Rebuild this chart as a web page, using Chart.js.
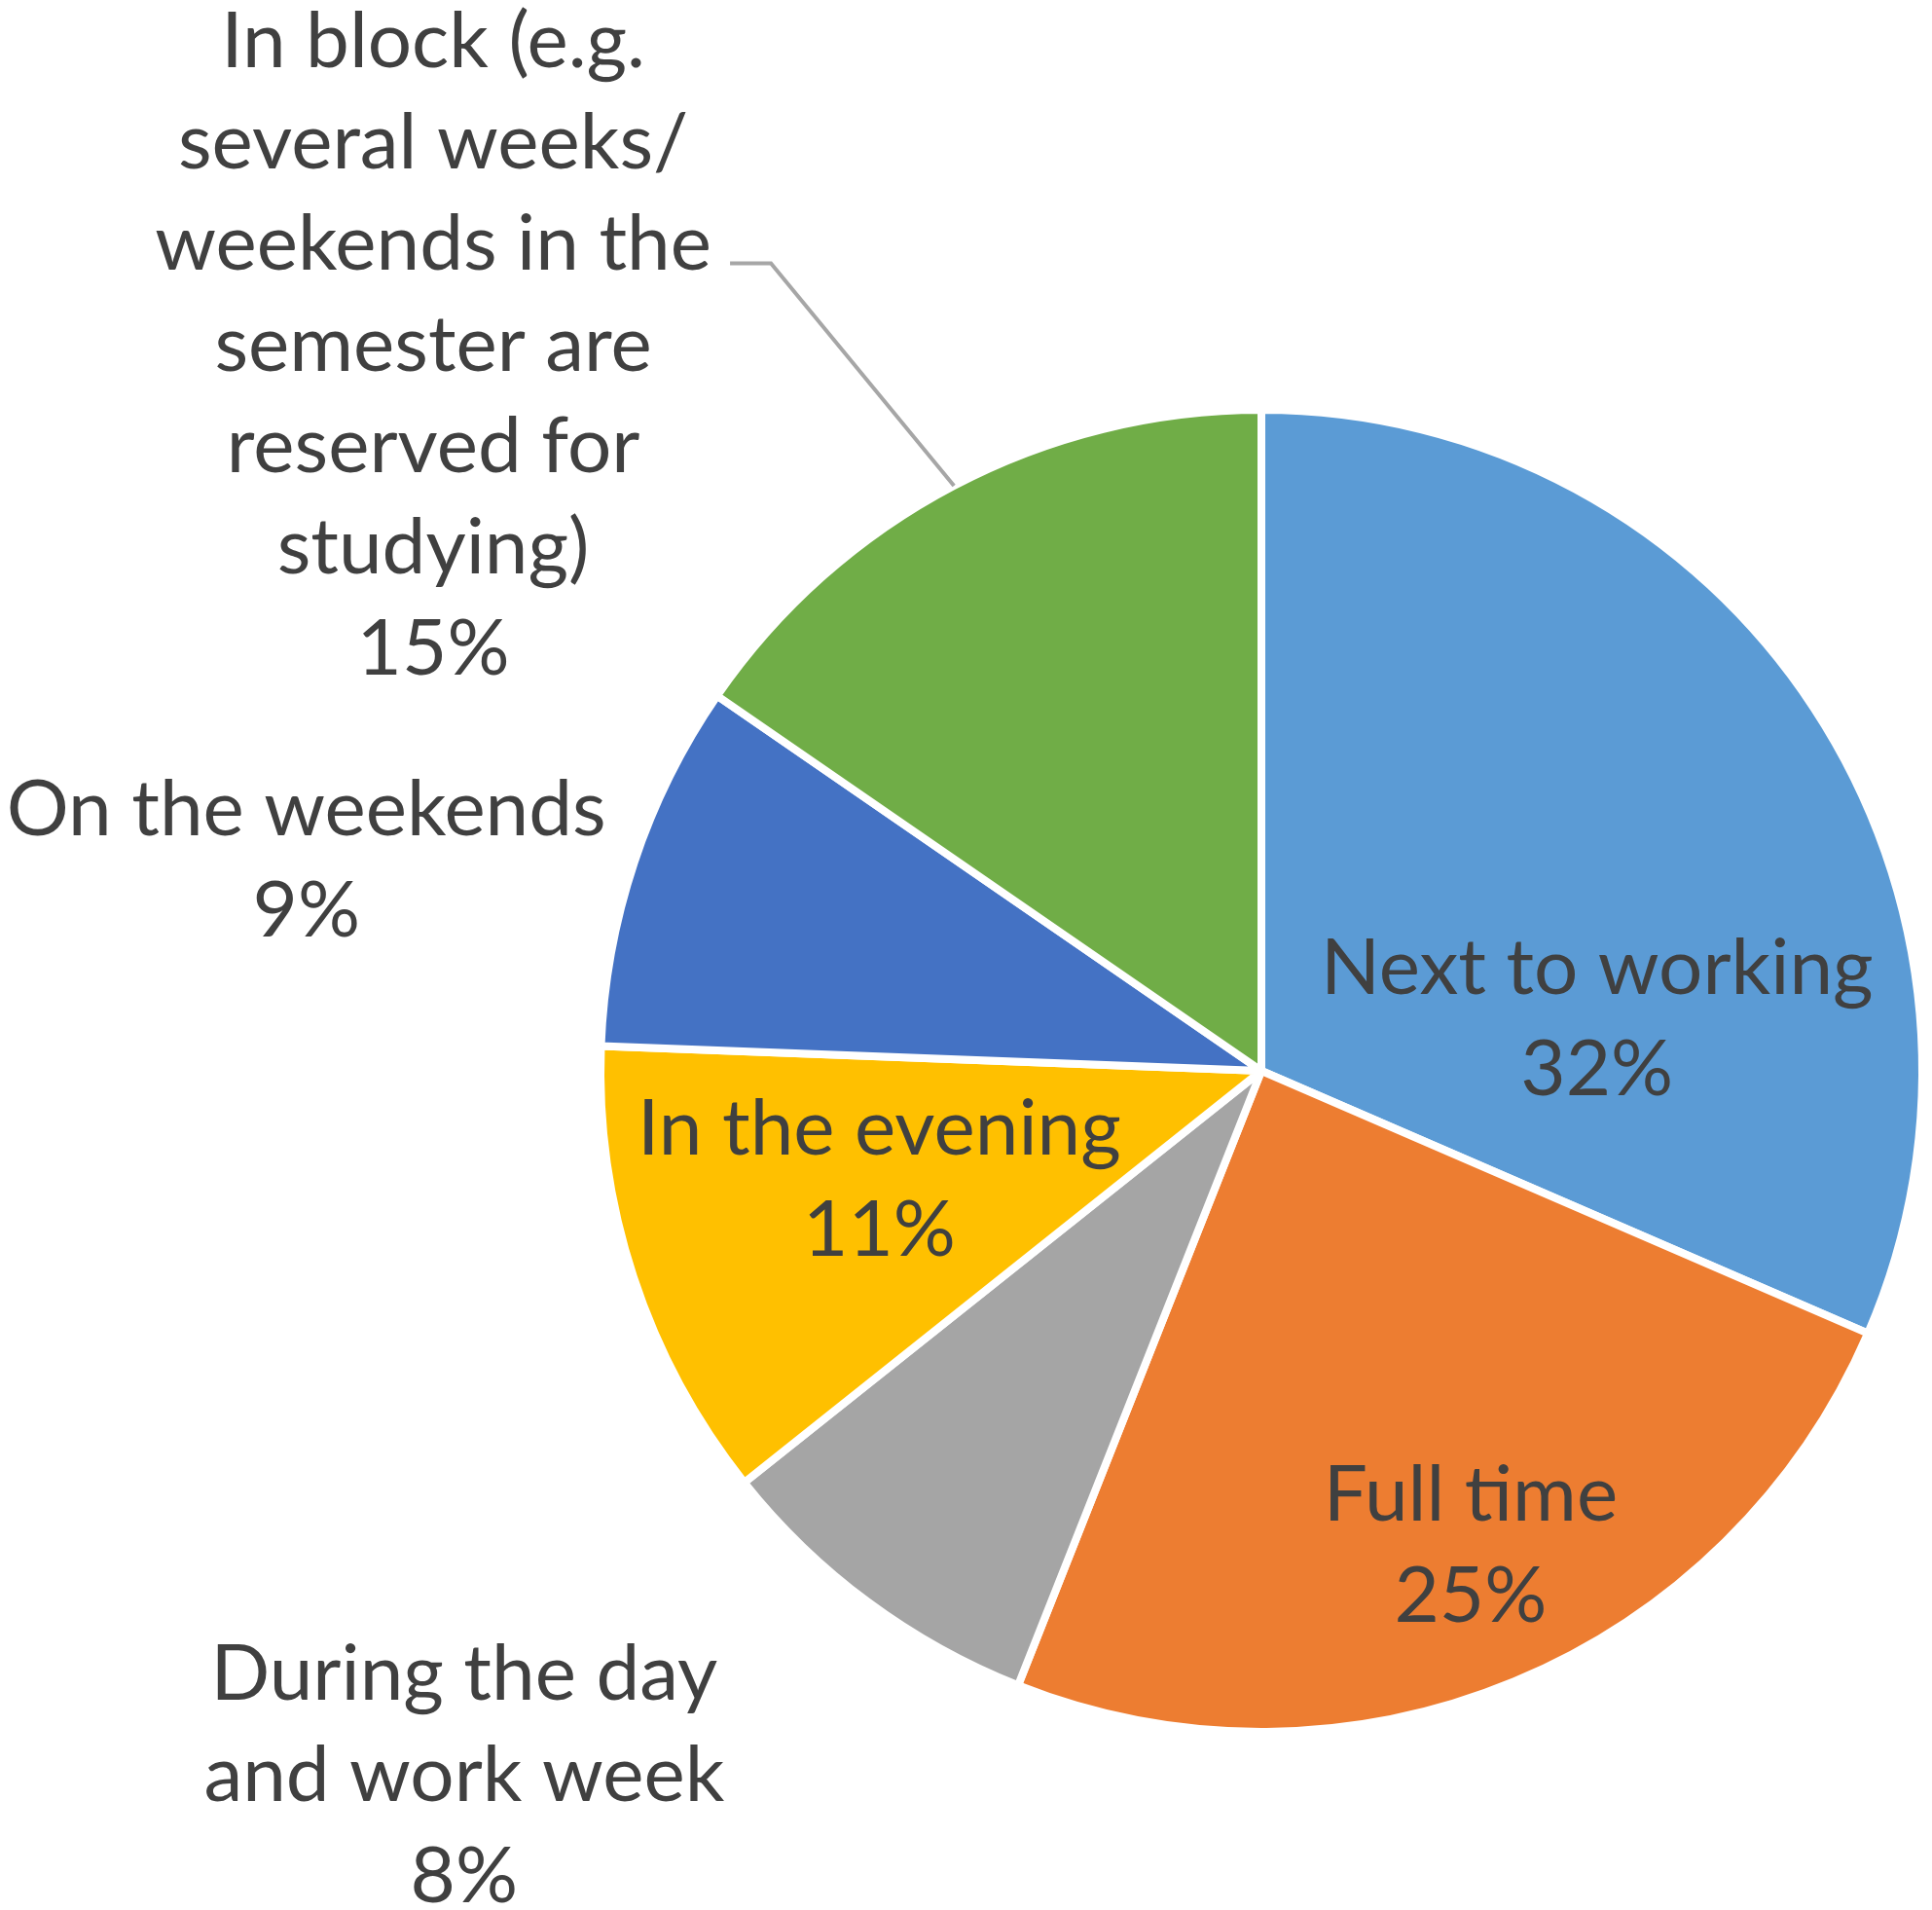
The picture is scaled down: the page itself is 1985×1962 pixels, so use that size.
<!DOCTYPE html>
<html>
<head>
<meta charset="utf-8">
<script src="https://cdn.jsdelivr.net/npm/chart.js@4/dist/chart.umd.min.js"></script>
<style>
  body { margin: 0; background: #fff; }
  #wrap { width: 1985px; height: 1962px; }
</style>
</head>
<body>
<div id="wrap"><canvas id="myPieChart"></canvas></div>
<script>
const categorias = [
  ['Next to working'],
  ['Full time'],
  ['During the day', 'and work week'],
  ['In the evening'],
  ['On the weekends'],
  ['In block (e.g.', 'several weeks/', 'weekends in the', 'semester are', 'reserved for', 'studying)']
];
const valores = [31.5, 24.5, 8.3, 11.3, 9.0, 15.4];
const colores = ['#5B9BD5', '#ED7D31', '#A5A5A5', '#FFC000', '#4472C4', '#70AD47'];

// desplazamiento de cada etiqueta respecto al centro del sector
const desplazamiento = [[61, 134], [85, 175], [-617, 451], [-70, 6], [-659, -109], [-693, -444]];
const interlineado = 104;

const pie = document.getElementById('myPieChart').getContext('2d');

const etiquetas = {
  id: 'etiquetas',
  afterDatasetsDraw(chart) {
    const ctx = chart.ctx;
    const meta = chart.getDatasetMeta(0);
    const total = valores.reduce((a, b) => a + b, 0);
    ctx.save();
    ctx.font = '80px Lato';
    ctx.fillStyle = '#404040';
    ctx.textAlign = 'center';
    ctx.textBaseline = 'middle';
    meta.data.forEach((arc, i) => {
      const p = arc.tooltipPosition();
      const x = p.x + desplazamiento[i][0];
      const y = p.y + desplazamiento[i][1];
      const porc = Math.round(valores[i] * 100 / total) + '%';
      const lineas = categorias[i].concat([porc]);
      const arriba = y - (lineas.length - 1) * interlineado / 2;
      lineas.forEach((t, k) => ctx.fillText(t, x, arriba + k * interlineado));

      //linea guia del sector "In block"
      if (i === 5) {
        const medio = (arc.startAngle + arc.endAngle) / 2;
        ctx.strokeStyle = '#A6A6A6';
        ctx.lineWidth = 4;
        ctx.beginPath();
        ctx.moveTo(x + 305, y - 85);
        ctx.lineTo(x + 347, y - 85);
        ctx.lineTo(arc.x + arc.outerRadius * Math.cos(medio), arc.y + arc.outerRadius * Math.sin(medio));
        ctx.stroke();
      }
    });
    ctx.restore();
  }
};

const graficaPie = new Chart(pie, {
  type: 'pie',
  data: {
    labels: categorias.map(c => c.join(' ')),
    datasets: [{
      data: valores,
      backgroundColor: colores,
      borderColor: '#ffffff',
      borderWidth: 8
    }]
  },
  options: {
    responsive: true,
    maintainAspectRatio: false,
    animation: false,
    layout: { padding: { left: 613, right: 6, top: 417, bottom: 179 } },
    plugins: {
      legend: { display: false },
      tooltip: { enabled: false }
    }
  },
  plugins: [etiquetas]
});
</script>
</body>
</html>
